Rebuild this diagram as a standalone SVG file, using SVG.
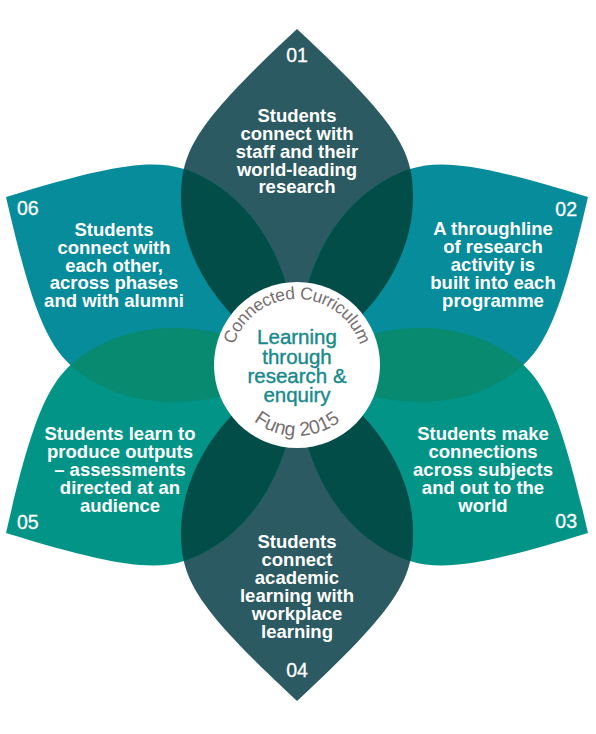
<svg xmlns="http://www.w3.org/2000/svg" width="596" height="734" viewBox="0 0 596 734">
<style>
.lbl{font-family:"Liberation Sans",Arial,sans-serif;font-weight:bold;font-size:18.5px;fill:#fff;text-anchor:middle}
.num{font-family:"Liberation Sans",Arial,sans-serif;font-size:19.5px;fill:#fff;stroke:#fff;stroke-width:0.3}
.ctr{font-family:"Liberation Sans",Arial,sans-serif;font-size:20.5px;fill:#188a8c;text-anchor:middle;stroke:#188a8c;stroke-width:0.4}
.arc{font-family:"Liberation Sans",Arial,sans-serif;fill:#786e70}
.slate{fill:#2b5a62}.teal{fill:#078c9b}.tg{fill:#029587}.dk{fill:#024d48}.gr{fill:#078a70}
</style>
<defs>
<path id="p" d="M0,-336C-100,-243 -116,-215 -116,-168C-116,-110 -80,-45 0,0C80,-45 116,-110 116,-168C116,-215 100,-243 0,-336Z"/>
<clipPath id="c1"><use href="#p" transform="translate(297 365)"/></clipPath>
<clipPath id="c2"><use href="#p" transform="translate(297 365) rotate(60)"/></clipPath>
<clipPath id="c3"><use href="#p" transform="translate(297 365) rotate(120)"/></clipPath>
<clipPath id="c4"><use href="#p" transform="translate(297 365) rotate(180)"/></clipPath>
<clipPath id="c5"><use href="#p" transform="translate(297 365) rotate(240)"/></clipPath>
<path id="arcTop" d="M231,365 A66,66 0 0 1 363,365"/>
<path id="arcBot" d="M226,365 A71,71 0 0 0 368,365"/>
</defs>

<g id="node-01">
<use href="#p" class="slate" transform="translate(297 365)"/>
<text class="num" x="297" y="62" text-anchor="middle">01</text>
<text class="lbl"><tspan x="297" y="122">Students</tspan><tspan x="297" y="140">connect with</tspan><tspan x="297" y="158">staff and their</tspan><tspan x="297" y="176">world-leading</tspan><tspan x="297" y="193">research</tspan></text>
</g>

<g id="node-02">
<use href="#p" class="teal" transform="translate(297 365) rotate(60)"/>
<g clip-path="url(#c1)"><use href="#p" class="dk" transform="translate(297 365) rotate(60)"/></g>
<text class="num" x="577" y="216" text-anchor="end">02</text>
<text class="lbl"><tspan x="493" y="235">A throughline</tspan><tspan x="493" y="253">of research</tspan><tspan x="493" y="271">activity is</tspan><tspan x="493" y="289">built into each</tspan><tspan x="493" y="307">programme</tspan></text>
</g>

<g id="node-03">
<use href="#p" class="tg" transform="translate(297 365) rotate(120)"/>
<g clip-path="url(#c2)"><use href="#p" class="gr" transform="translate(297 365) rotate(120)"/></g>
<text class="num" x="577" y="528" text-anchor="end">03</text>
<text class="lbl"><tspan x="483" y="440">Students make</tspan><tspan x="483" y="458">connections</tspan><tspan x="483" y="476">across subjects</tspan><tspan x="483" y="494">and out to the</tspan><tspan x="483" y="512">world</tspan></text>
</g>

<g id="node-04">
<use href="#p" class="slate" transform="translate(297 365) rotate(180)"/>
<g clip-path="url(#c3)"><use href="#p" class="dk" transform="translate(297 365) rotate(180)"/></g>
<text class="num" x="297" y="677" text-anchor="middle">04</text>
<text class="lbl"><tspan x="297" y="548">Students</tspan><tspan x="297" y="566">connect</tspan><tspan x="297" y="584">academic</tspan><tspan x="297" y="602">learning with</tspan><tspan x="297" y="620">workplace</tspan><tspan x="297" y="638">learning</tspan></text>
</g>

<g id="node-05">
<use href="#p" class="tg" transform="translate(297 365) rotate(240)"/>
<g clip-path="url(#c4)"><use href="#p" class="dk" transform="translate(297 365) rotate(240)"/></g>
<text class="num" x="17" y="529">05</text>
<text class="lbl"><tspan x="120" y="440">Students learn to</tspan><tspan x="120" y="458">produce outputs</tspan><tspan x="120" y="476">– assessments</tspan><tspan x="120" y="494">directed at an</tspan><tspan x="120" y="512">audience</tspan></text>
</g>

<g id="node-06">
<use href="#p" class="teal" transform="translate(297 365) rotate(300)"/>
<g clip-path="url(#c5)"><use href="#p" class="gr" transform="translate(297 365) rotate(300)"/></g>
<g clip-path="url(#c1)"><use href="#p" class="dk" transform="translate(297 365) rotate(300)"/></g>
<text class="num" x="17" y="215">06</text>
<text class="lbl"><tspan x="114" y="236">Students</tspan><tspan x="114" y="254">connect with</tspan><tspan x="114" y="272">each other,</tspan><tspan x="114" y="289">across phases</tspan><tspan x="114" y="307">and with alumni</tspan></text>
</g>

<g id="center">
<circle cx="297" cy="365" r="83" fill="#fff"/>
<text class="arc" font-size="17.5" letter-spacing="-0.4"><textPath href="#arcTop" startOffset="50%" text-anchor="middle">Connected Curriculum</textPath></text>
<text class="arc" font-size="19.5"><textPath href="#arcBot" startOffset="50%" text-anchor="middle">Fung 2015</textPath></text>
<text class="ctr"><tspan x="297" y="344">Learning</tspan><tspan x="297" y="364">through</tspan><tspan x="297" y="383">research &amp;</tspan><tspan x="297" y="402">enquiry</tspan></text>
</g>
</svg>
